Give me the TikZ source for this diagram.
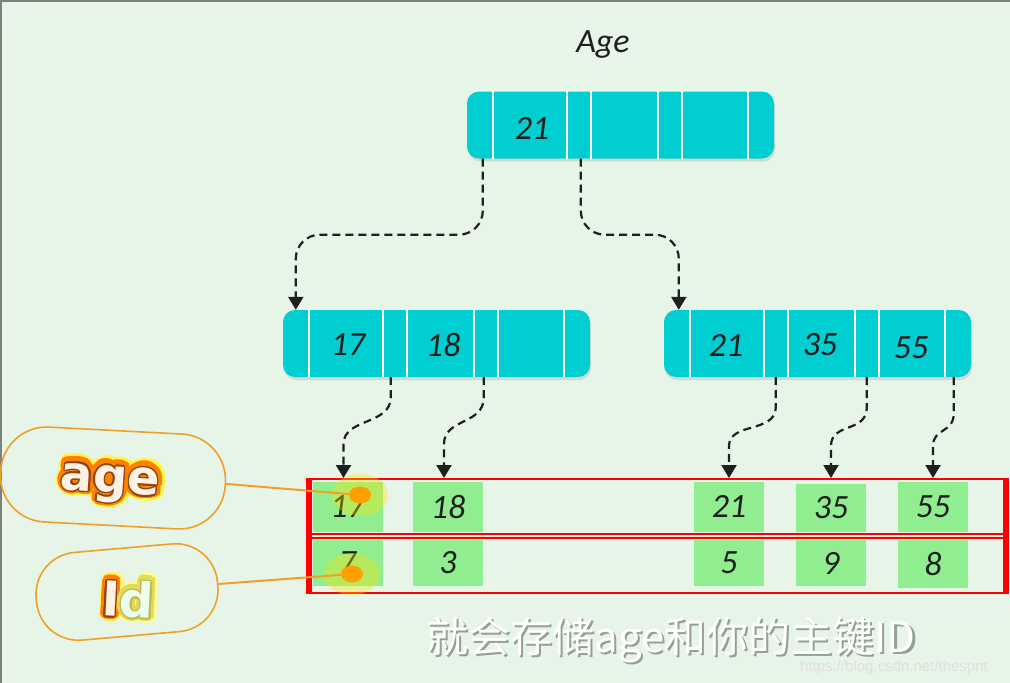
\documentclass[tikz,border=0pt]{standalone}
\usepackage{fontspec}
\setmainfont{Carlito}
\newfontfamily\cjk{Noto Sans CJK SC}
\newfontfamily\cartoonfont{DejaVu Sans}
\newfontfamily\wmfont{Liberation Sans}
\usepackage{contour}
\usetikzlibrary{arrows.meta,calc,shapes.geometric,shadows}
\definecolor{bg}{RGB}{230,245,232}
\definecolor{tq}{RGB}{0,206,209}
\definecolor{cellg}{RGB}{144,238,144}
\definecolor{org}{RGB}{240,160,40}
\definecolor{dotc}{RGB}{255,160,0}
\definecolor{brn}{RGB}{140,70,20}
\tikzset{
  bnode/.style={fill=tq, rounded corners=12pt, minimum width=307pt, minimum height=67pt, inner sep=0pt,
    drop shadow={opacity=0.22, shadow xshift=1pt, shadow yshift=-3pt}},
  num/.style={font=\fontsize{34}{36}\selectfont\itshape, text=black!88, inner sep=0pt},
  cellbox/.style={fill=cellg, inner sep=0pt, minimum width=70pt, font=\fontsize{34}{36}\selectfont\itshape, text=black!88},
  conn/.style={draw=black!88, line width=2.2pt, dash pattern=on 8pt off 5pt, -{Triangle[length=13pt,width=15pt]}},
  sepline/.style={draw=white, line width=2.5pt},
  rowbox/.style={draw=red, line width=2pt, minimum width=694pt, minimum height=55pt, inner sep=0pt},
  bubble/.style={draw=org, line width=1.6pt},
  orgline/.style={draw=org, line width=2pt},
  glow/.style={ellipse, fill=yellow!85!orange, opacity=0.35, minimum width=56pt, minimum height=42pt, inner sep=0pt},
  dot/.style={ellipse, fill=dotc, minimum width=22pt, minimum height=17pt, inner sep=0pt},
  cartoon/.style={font=\cartoonfont\bfseries\fontsize{48}{52}\selectfont, inner sep=0pt},
  capfont/.style={font=\cjk\fontsize{42}{46}\selectfont, inner sep=0pt}
}
\begin{document}
\begin{tikzpicture}[x=1pt,y=-1pt]
\useasboundingbox (0,0) rectangle (1010,683);
\fill[bg] (0,0) rectangle (1010,683);
\draw[gray, line width=1.5pt] (0.75,683) -- (0.75,0.75) -- (1010,0.75);

% title
\node[num] (title) at (603,45) {Age};

% B+ tree nodes
\node[bnode] (root) at (620.5,125) {};
\node[bnode] (midL) at (436.5,343.5) {};
\node[bnode] (midR) at (817.5,343.5) {};
\foreach \n in {root,midL,midR}{
  \foreach \o in {26,100,124,191,215,281}{
    \draw[sepline] ([xshift=\o pt]\n.north west) -- ([xshift=\o pt]\n.south west);
  }
}
\node[num] (r21) at (532,128) {21};
\node[num] (l17) at (348,345) {17};
\node[num] (l18) at (443,345) {18};
\node[num] (m21) at (726,345) {21};
\node[num] (m35) at (820,345) {35};
\node[num] (m55) at (911,348) {55};

% leaf rows
\node[rowbox] (rowA) at (657,506.5) {};
\node[rowbox] (rowB) at (657,565.5) {};
\fill[red] ([xshift=-3pt]rowA.north west) rectangle ([xshift=3pt]rowB.south west);
\fill[red] ([xshift=-2pt]rowA.north east) rectangle ([xshift=4pt]rowB.south east);

\node[cellbox, minimum height=50pt] (c17) at (347.5,507) {17};
\node[cellbox, minimum height=50pt] (c18) at (448,507) {18};
\node[cellbox, minimum height=50pt] (c21) at (729,506.5) {21};
\node[cellbox, minimum height=48pt] (c35) at (831,508) {35};
\node[cellbox, minimum height=50pt] (c55) at (933,507) {55};
\node[cellbox, minimum height=46pt] (c7) at (347.5,563) {7};
\node[cellbox, minimum height=46pt] (c3) at (448,563) {3};
\node[cellbox, minimum height=46pt] (c5) at (729,563) {5};
\node[cellbox, minimum height=46pt] (c9) at (831,563) {9};
\node[cellbox, minimum height=48pt] (c8) at (933,564) {8};

% connectors root -> middle
\draw[conn, rounded corners=24pt] ([xshift=16pt]root.south west) -- ++(0,76) -| ([xshift=13pt]midL.north west);
\draw[conn, rounded corners=24pt] ([xshift=114pt]root.south west) -- ++(0,76) -| ([xshift=15pt]midR.north west);

% connectors middle -> leaves
\draw[conn] ([xshift=108pt]midL.south west) -- ++(0,20) .. controls +(0,28) and +(0,-26) .. ($([xshift=-4pt]c17.north |- rowA.north)+(0,-34)$) -- ([xshift=-4pt]c17.north |- rowA.north);
\draw[conn] ([xshift=201pt]midL.south west) -- ++(0,20) .. controls +(0,28) and +(0,-26) .. ($([xshift=-4pt]c18.north |- rowA.north)+(0,-34)$) -- ([xshift=-4pt]c18.north |- rowA.north);
\draw[conn] ([xshift=112pt]midR.south west) -- ++(0,30) .. controls +(0,26) and +(0,-24) .. ($(c21.north |- rowA.north)+(0,-32)$) -- (c21.north |- rowA.north);
\draw[conn] ([xshift=203pt]midR.south west) -- ++(0,30) .. controls +(0,26) and +(0,-24) .. ($(c35.north |- rowA.north)+(0,-32)$) -- (c35.north |- rowA.north);
\draw[conn] ([xshift=290pt]midR.south west) -- ++(0,36) .. controls +(0,20) and +(0,-18) .. ($(c55.north |- rowA.north)+(0,-32)$) -- (c55.north |- rowA.north);

% bubbles
\node[bubble, rounded corners=46pt, minimum width=225pt, minimum height=95pt, rotate=-3] (ageB) at (113,478) {};
\node[bubble, rounded corners=42pt, minimum width=182pt, minimum height=88pt, rotate=5] (idB) at (127,592) {};

\node[cartoon, text=yellow!70, rotate=-4] (ageGlow) at (111,486) {\contourlength{7.5pt}\contour{yellow!70}{age}};
\node[cartoon, text=orange, rotate=-4] (ageOut) at (110,485) {\contourlength{5pt}\contour{orange}{age}};
\node[cartoon, text=white!90!orange, rotate=-4] (ageIn) at (110,485) {\contourlength{1.4pt}\contour{brn}{age}};

\node[cartoon, rotate=-3] (idGlow) at (129,601) {{\color{yellow!60}\contourlength{7pt}\contour{yellow!60}{I}}{\color{yellow!40}\contourlength{7pt}\contour{yellow!40}{d}}};
\node[cartoon, rotate=-3] (idOut) at (128,600) {{\color{orange}\contourlength{4.5pt}\contour{orange}{I}}{\color{yellow!55!olive!60}\contourlength{4.5pt}\contour{yellow!55!olive!60}{d}}};
\node[cartoon, rotate=-3] (idIn) at (128,600) {{\color{white!90!orange}\contourlength{1.4pt}\contour{brn}{I}}{\color{green!8}\contourlength{1.4pt}\contour{olive!55}{d}}};

% highlight dots
\node[glow] (g1) at (360,495) {};
\node[glow] (g2) at (352,574) {};
\node[dot] (d1) at (360,495) {};
\node[dot] (d2) at (352,574) {};
\draw[orgline] (ageB.east) -- (d1);
\draw[orgline] (idB.east) -- (d2);

% caption and watermark
\node[capfont, text=black, opacity=0.35] (capS) at (673.5,642.5) {就会存储age和你的主键ID};
\node[capfont, text=white] (cap) at (671,640) {就会存储age和你的主键ID};
\node[font=\wmfont\fontsize{15}{17}\selectfont, text=white!75!gray, inner sep=0pt] (wm) at (894,668) {https://blog.csdn.net/thesprit};
\end{tikzpicture}
\end{document}
